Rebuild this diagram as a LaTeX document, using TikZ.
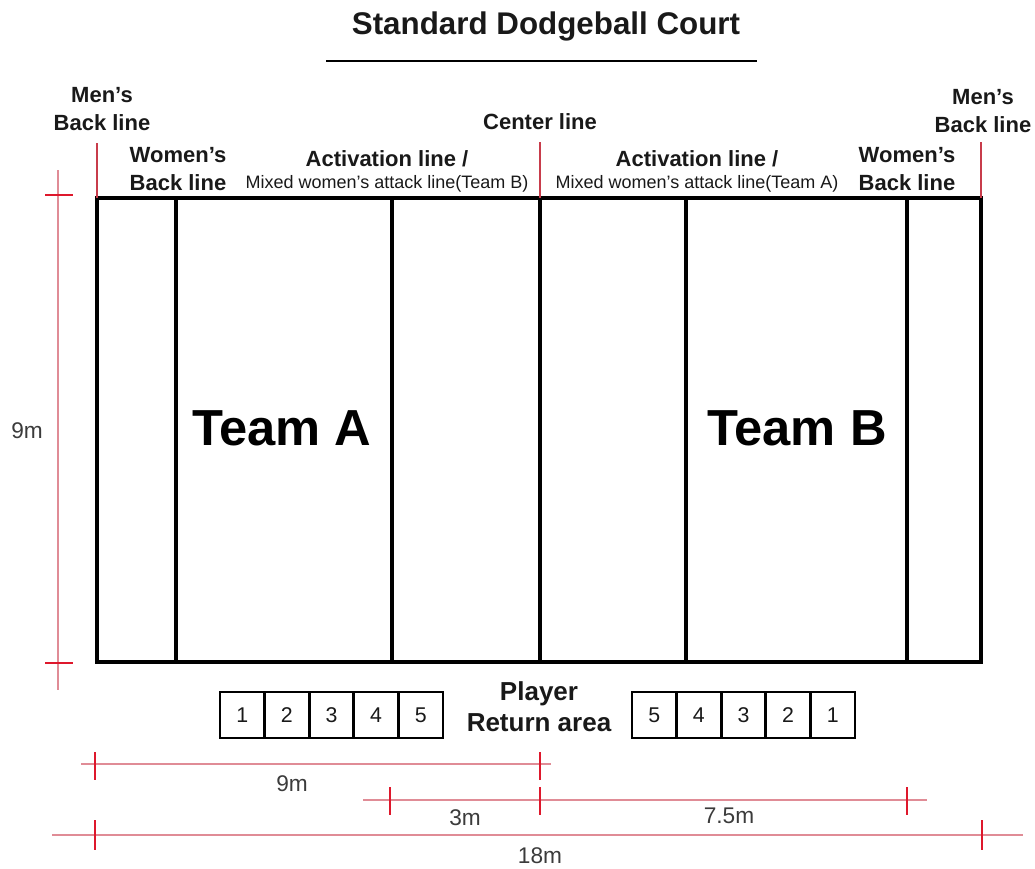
\documentclass[tikz,border=0pt]{standalone}
\usepackage{fontspec}
\setmainfont{Liberation Sans}
\definecolor{dimline}{RGB}{224,140,150}
\definecolor{dimtick}{RGB}{222,24,44}
\definecolor{markline}{RGB}{200,60,75}
\definecolor{txt}{RGB}{25,25,25}
\newcommand{\apos}{{\char"27}}
\tikzset{
  lbl/.style={font=\bfseries\fontsize{16.5}{21}\selectfont, text=txt, inner sep=0pt, align=center},
  small/.style={font=\fontsize{13.5}{15}\selectfont, text=txt, inner sep=0pt},
  dimtxt/.style={font=\fontsize{17}{19}\selectfont, text=txt!85, inner sep=0pt},
  team/.style={font=\bfseries\fontsize{38}{40}\selectfont, text=black, inner sep=0pt},
  cell/.style={draw=black, line width=2.1pt, minimum width=33.45pt, minimum height=34.5pt, inner sep=0pt, font=\fontsize{16}{18}\selectfont, text=txt},
  court/.style={line width=3pt, black},
  dline/.style={dimline, line width=2.1pt},
  vline/.style={dimline, line width=1.5pt},
  dtick/.style={dimtick, line width=1.8pt},
  mline/.style={markline, line width=1pt}
}
\begin{document}
\begin{tikzpicture}[x=0.75pt,y=-0.75pt]
\useasboundingbox (0,0) rectangle (1035,868);
% title
\node[font=\bfseries\fontsize{23.5}{26}\selectfont, inner sep=0pt, text=txt] (title) at (546,26) {Standard Dodgeball Court};
\coordinate (ul1) at (326,61); \coordinate (ul2) at (757,61);
\draw[line width=2.2pt] (ul1) -- (ul2);
% court
\coordinate (c1) at (97,198); \coordinate (c2) at (981,662);
\draw[court] (c1) rectangle (c2);
\foreach \x/\n in {176/wl,392/al,540/cl,686/ar,907/wr}{
  \coordinate (\n t) at (\x,198); \coordinate (\n b) at (\x,662);
  \draw[court] (\n t) -- (\n b);
}
% marker lines
\coordinate (m1) at (97,143); \coordinate (m1b) at (97,198);
\coordinate (m2) at (540,142); \coordinate (m2b) at (540,198);
\coordinate (m3) at (981,142); \coordinate (m3b) at (981,198);
\draw[mline] (m1) -- (m1b);
\draw[mline] (m2) -- (m2b);
\draw[mline] (m3) -- (m3b);
% labels
\node[lbl] (menL) at (102,109) {Men\apos s\\Back line};
\node[lbl] (womL) at (178,169) {Women\apos s\\Back line};
\node[lbl] (actL) at (387,159) {Activation line /};
\node[small] (mixL) at (387,184) {Mixed women\apos s attack line(Team B)};
\node[lbl] (cen) at (540,122) {Center line};
\node[lbl] (actR) at (697,159) {Activation line /};
\node[small] (mixR) at (697,184) {Mixed women\apos s attack line(Team A)};
\node[lbl] (womR) at (907,169) {Women\apos s\\Back line};
\node[lbl] (menR) at (983,111) {Men\apos s\\Back line};
% teams
\node[team] (teamA) at (282,428) {Team A};
\node[team] (teamB) at (797,428) {Team B};
% left dimension
\coordinate (v1) at (58,170); \coordinate (v2) at (58,690);
\draw[vline] (v1) -- (v2);
\coordinate (vt1a) at (45,195); \coordinate (vt1b) at (73,195);
\coordinate (vt2a) at (45,663); \coordinate (vt2b) at (73,663);
\draw[dtick] (vt1a) -- (vt1b);
\draw[dtick] (vt2a) -- (vt2b);
\node[dimtxt] (nine) at (27,431) {9m};
% player return area
\foreach \i in {1,...,5}{
  \node[cell] (l\i) at ({220+44.6*(\i-0.5)},715) {\i};
}
\foreach \i/\k in {1/5,2/4,3/3,4/2,5/1}{
  \node[cell] (r\i) at ({632+44.6*(\i-0.5)},715) {\k};
}
\node[lbl, font=\bfseries\fontsize{19.5}{23}\selectfont] (pra) at (539,707) {Player\\Return area};
% bottom dimensions
\coordinate (a1) at (81,764); \coordinate (a2) at (551,764);
\draw[dline] (a1) -- (a2);
\foreach \x/\n in {95/ta,540/tb}{
  \coordinate (\n1) at (\x,752); \coordinate (\n2) at (\x,780);
  \draw[dtick] (\n1) -- (\n2);
}
\node[dimtxt] (d9) at (292,784) {9m};
\coordinate (b1) at (363,800); \coordinate (b2) at (927,800);
\draw[dline] (b1) -- (b2);
\foreach \x/\n in {390/sa,540/sb,907/sc}{
  \coordinate (\n1) at (\x,787); \coordinate (\n2) at (\x,815);
  \draw[dtick] (\n1) -- (\n2);
}
\node[dimtxt] (d3) at (465,818) {3m};
\node[dimtxt] (d75) at (729,816) {7.5m};
\coordinate (e1) at (52,835); \coordinate (e2) at (1023,835);
\draw[dline] (e1) -- (e2);
\foreach \x/\n in {95/ua,982/ub}{
  \coordinate (\n1) at (\x,820); \coordinate (\n2) at (\x,850);
  \draw[dtick] (\n1) -- (\n2);
}
\node[dimtxt] (d18) at (540,856) {18m};
\end{tikzpicture}
\end{document}
